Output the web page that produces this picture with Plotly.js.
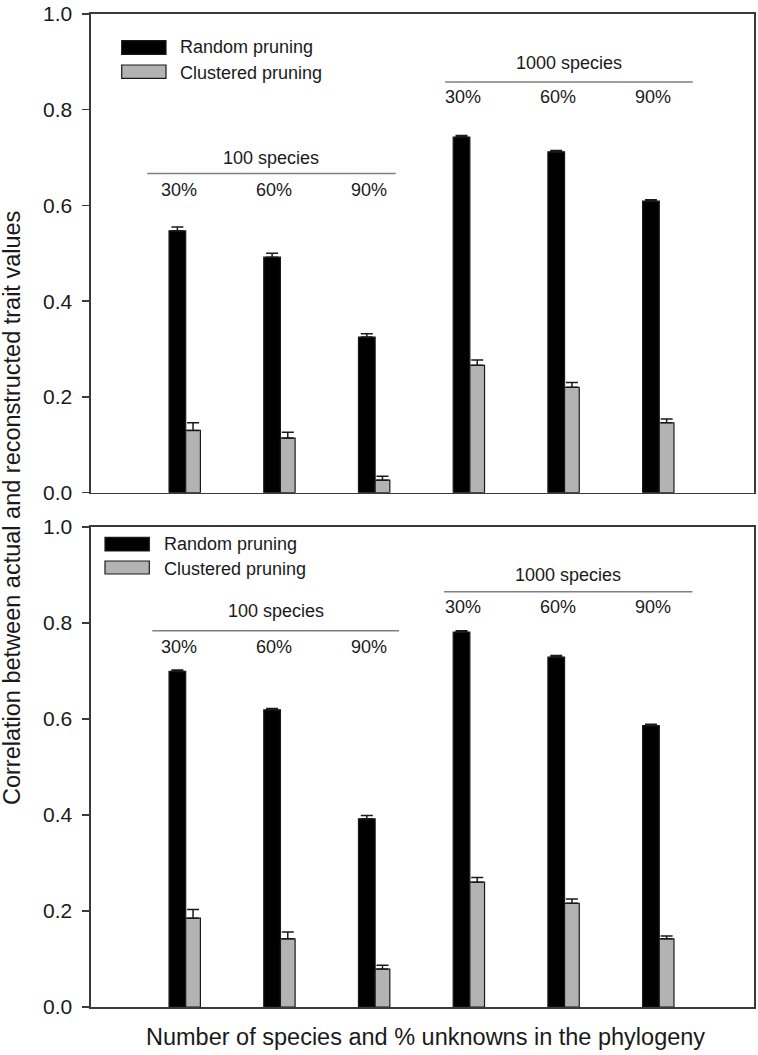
<!DOCTYPE html>
<html>
<head>
<meta charset="utf-8">
<script src="https://cdn.plot.ly/plotly-3.0.1.min.js"></script>
<style>html,body{margin:0;padding:0;background:#fff;}</style>
</head>
<body>
<div id="chart" style="width:758px;height:1055px;"></div>
<script>
// ---- data ----
const categories = ['100 species 30%', '100 species 60%', '100 species 90%', '1000 species 30%', '1000 species 60%', '1000 species 90%'];
const percentLabels = ['30%', '60%', '90%', '30%', '60%', '90%'];
const groupLabels = ['100 species', '1000 species'];
const seriesNames = ['Random pruning', 'Clustered pruning'];

const topRandom = [0.547, 0.492, 0.325, 0.743, 0.712, 0.609];
const topRandomErr = [0.008, 0.008, 0.007, 0.003, 0.003, 0.003];
const topClustered = [0.130, 0.114, 0.026, 0.266, 0.220, 0.146];
const topClusteredErr = [0.016, 0.012, 0.008, 0.011, 0.010, 0.008];

const botRandom = [0.699, 0.619, 0.392, 0.781, 0.729, 0.586];
const botRandomErr = [0.003, 0.003, 0.007, 0.003, 0.003, 0.003];
const botClustered = [0.185, 0.142, 0.079, 0.260, 0.216, 0.142];
const botClusteredErr = [0.018, 0.014, 0.008, 0.010, 0.009, 0.006];

const yTicks = [0, 0.2, 0.4, 0.6, 0.8, 1.0];

// ---- helpers ----
const xPos = categories.map((c, i) => i + 1);
const FONT = 'Liberation Sans, Arial, sans-serif';
const W = 758, H = 1055, ML = 91, MR = 4, MT = 14, MB = 48;
const PW = W - ML - MR, PH = H - MT - MB;
const px = x => (x - ML) / PW;
const py = y => (H - MB - y) / PH;

function barTrace(vals, errs, color, off, wid, xa, ya, name) {
  return {
    type: 'bar', x: xPos, y: vals, name: name, xaxis: xa, yaxis: ya,
    offset: off, width: wid, showlegend: false,
    marker: {color: color, line: {color: '#1a1a1a', width: 1.2}},
    error_y: {type: 'data', symmetric: false, array: errs, arrayminus: errs.map(() => 0),
              color: '#1a1a1a', thickness: 1.5, width: 6},
    hoverinfo: 'x+y'
  };
}

const BW = 0.176, GW = 0.155;
const data = [
  barTrace(topRandom, topRandomErr, '#000000', -BW, BW, 'x', 'y', seriesNames[0]),
  barTrace(topClustered, topClusteredErr, '#b3b3b3', 0, GW, 'x', 'y', seriesNames[1]),
  barTrace(botRandom, botRandomErr, '#000000', -BW, BW, 'x2', 'y2', seriesNames[0]),
  barTrace(botClustered, botClusteredErr, '#b3b3b3', 0, GW, 'x2', 'y2', seriesNames[1])
];

function xAx(anchor) {
  return {domain: [0, 1], range: [0, 7], anchor: anchor, showline: true, mirror: true,
          linecolor: '#3a3a3a', linewidth: 1.6, showticklabels: false, ticks: '',
          showgrid: false, zeroline: false, fixedrange: true};
}
function yAx(anchor, dom) {
  return {domain: dom, range: [0, 1], anchor: anchor, showline: true, mirror: true,
          linecolor: '#3a3a3a', linewidth: 1.6, tickvals: yTicks, tickformat: '.1f',
          ticks: 'outside', ticklen: 7, tickwidth: 1.5, tickcolor: '#3a3a3a',
          ticklabelstandoff: 6,
          tickfont: {family: FONT, size: 21, color: '#1a1a1a'},
          showgrid: false, zeroline: false, fixedrange: true};
}

// group label decorations per panel (data units)
const panels = [
  {xa: 'x', ya: 'y', grpY: [0.699, 0.897], lineY: [0.667, 0.858], pctY: [0.632, 0.826],
   lineX: [[0.594, 3.217], [3.738, 6.354]],
   legend: {sx: [121.7, 166], yb: [40.7, 54.3], yg: [65, 78.3], tx: 178}},
  {xa: 'x2', ya: 'y2', grpY: [0.826, 0.900], lineY: [0.784, 0.865], pctY: [0.751, 0.834],
   lineX: [[0.647, 3.252], [3.727, 6.35]],
   legend: {sx: [105, 149.3], yb: [537.3, 551], yg: [561, 574], tx: 161.7}}
];

const annotations = [];
const shapes = [];
panels.forEach(p => {
  groupLabels.forEach((g, gi) => {
    const lx = p.lineX[gi];
    annotations.push({xref: p.xa, yref: p.ya, x: (lx[0] + lx[1]) / 2, y: p.grpY[gi], text: g,
      showarrow: false, xanchor: 'center', yanchor: 'middle',
      font: {family: FONT, size: 18, color: '#1a1a1a'}});
    shapes.push({type: 'line', xref: p.xa, yref: p.ya, x0: lx[0], x1: lx[1],
      y0: p.lineY[gi], y1: p.lineY[gi], line: {color: '#808080', width: 1.5}});
  });
  percentLabels.forEach((t, i) => {
    annotations.push({xref: p.xa, yref: p.ya, x: xPos[i] - 0.07, y: p.pctY[Math.floor(i / 3)], text: t,
      showarrow: false, xanchor: 'center', yanchor: 'middle',
      font: {family: FONT, size: 18, color: '#1a1a1a'}});
  });
  const L = p.legend;
  shapes.push({type: 'rect', xref: 'paper', yref: 'paper', x0: px(L.sx[0]), x1: px(L.sx[1]),
    y0: py(L.yb[1]), y1: py(L.yb[0]), fillcolor: '#000', line: {color: '#1a1a1a', width: 1.2}});
  shapes.push({type: 'rect', xref: 'paper', yref: 'paper', x0: px(L.sx[0]), x1: px(L.sx[1]),
    y0: py(L.yg[1]), y1: py(L.yg[0]), fillcolor: '#b3b3b3', line: {color: '#1a1a1a', width: 1.2}});
  annotations.push({xref: 'paper', yref: 'paper', x: px(L.tx), y: py((L.yb[0] + L.yb[1]) / 2),
    text: seriesNames[0], showarrow: false, xanchor: 'left', yanchor: 'middle',
    font: {family: FONT, size: 18, color: '#1a1a1a'}});
  annotations.push({xref: 'paper', yref: 'paper', x: px(L.tx), y: py((L.yg[0] + L.yg[1]) / 2 + 1),
    text: seriesNames[1], showarrow: false, xanchor: 'left', yanchor: 'middle',
    font: {family: FONT, size: 18, color: '#1a1a1a'}});
});

// axis titles
annotations.push({xref: 'paper', yref: 'paper', x: px(12), y: py(508),
  text: 'Correlation between actual and reconstructed trait values', textangle: -90,
  showarrow: false, xanchor: 'center', yanchor: 'middle',
  font: {family: FONT, size: 23.5, color: '#1a1a1a'}});
annotations.push({xref: 'paper', yref: 'paper', x: px(425), y: py(1037),
  text: 'Number of species and % unknowns in the phylogeny',
  showarrow: false, xanchor: 'center', yanchor: 'middle',
  font: {family: FONT, size: 23.5, color: '#1a1a1a'}});

const layout = {
  width: W, height: H,
  margin: {l: ML, r: MR, t: MT, b: MB, pad: 0},
  paper_bgcolor: '#ffffff', plot_bgcolor: '#ffffff',
  barmode: 'overlay', showlegend: false,
  xaxis: xAx('y'), yaxis: yAx('x', [0.518, 1]),
  xaxis2: xAx('y2'), yaxis2: yAx('x2', [0, 0.4834]),
  annotations: annotations, shapes: shapes,
  font: {family: FONT}
};

Plotly.newPlot('chart', data, layout, {displayModeBar: false, staticPlot: true});
</script>
</body>
</html>
